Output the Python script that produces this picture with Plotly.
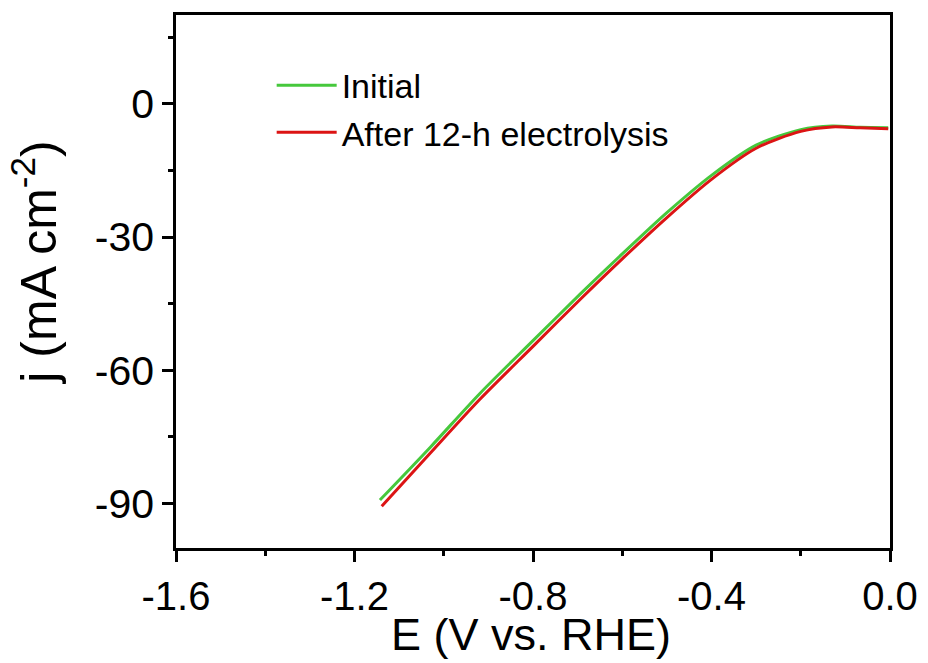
import plotly.graph_objects as go

# Data
E_initial = [-1.143, -1.03, -0.919, -0.80, -0.695, -0.60, -0.50, -0.40, -0.30, -0.20, -0.13, -0.067, -0.004]
j_initial = [-89.2, -77.3, -65.2, -53.3, -42.9, -33.8, -24.5, -16.1, -9.3, -5.8, -5.0, -5.3, -5.4]

E_after = [-1.139, -1.03, -0.919, -0.80, -0.695, -0.60, -0.50, -0.40, -0.30, -0.20, -0.13, -0.067, -0.004]
j_after = [-90.6, -78.6, -66.5, -54.6, -44.1, -34.9, -25.6, -17.0, -10.0, -6.2, -5.2, -5.4, -5.6]

names = ["Initial", "After 12-h electrolysis"]
colors = ["#46c83c", "#dc1414"]

x_tickvals = [-1.6, -1.2, -0.8, -0.4, 0.0]
x_ticktext = ["-1.6", "-1.2", "-0.8", "-0.4", "0.0"]
y_tickvals = [-90, -60, -30, 0]
y_ticktext = ["-90", "-60", "-30", "0"]
x_title = "E (V vs. RHE)"
y_title = "j (mA cm<sup>-2</sup>)"

fig = go.Figure()
fig.add_trace(go.Scatter(x=E_initial, y=j_initial, mode="lines", name=names[0],
                         line=dict(color=colors[0], width=3, shape="spline", smoothing=0.8)))
fig.add_trace(go.Scatter(x=E_after, y=j_after, mode="lines", name=names[1],
                         line=dict(color=colors[1], width=3, shape="spline", smoothing=0.8)))

font_family = "Liberation Sans, Arial, sans-serif"
fig.update_layout(
    width=928, height=663,
    margin=dict(l=176, r=38, t=15, b=115, autoexpand=False),
    plot_bgcolor="white", paper_bgcolor="white",
    font=dict(family=font_family, color="black"),
    legend=dict(x=0.134, y=0.922, xanchor="left", yanchor="top",
                font=dict(size=34, family=font_family), itemwidth=60,
                bgcolor="rgba(0,0,0,0)", tracegroupgap=0),
    showlegend=True,
)
fig.add_annotation(text=y_title, xref="paper", yref="paper",
                   x=-0.197, y=0.536, xanchor="center", yanchor="middle",
                   textangle=-90, showarrow=False,
                   font=dict(size=50, family=font_family, color="black"))
fig.add_annotation(text=x_title, xref="paper", yref="paper",
                   x=0.497, y=-0.162, xanchor="center", yanchor="middle",
                   showarrow=False,
                   font=dict(size=45, family=font_family, color="black"))
fig.update_xaxes(
    range=[-1.6, 0.0], tickvals=x_tickvals, ticktext=x_ticktext,
    showgrid=False, zeroline=False,
    showline=True, linecolor="black", linewidth=2.5, mirror=True,
    ticks="outside", ticklen=11, tickwidth=2.5, tickcolor="black",
    minor=dict(dtick=0.2, ticks="outside", ticklen=5, tickwidth=2.5, tickcolor="black"),
    tickfont=dict(size=40, family=font_family),
)
fig.update_yaxes(
    range=[-100, 20], tickvals=y_tickvals, ticktext=y_ticktext,
    showgrid=False, zeroline=False,
    showline=True, linecolor="black", linewidth=2.5, mirror=True,
    ticks="outside", ticklen=11, tickwidth=2.5, tickcolor="black",
    minor=dict(dtick=15, ticks="outside", ticklen=5, tickwidth=2.5, tickcolor="black"),
    tickfont=dict(size=41, family=font_family),
)

fig.write_html("out.html")
